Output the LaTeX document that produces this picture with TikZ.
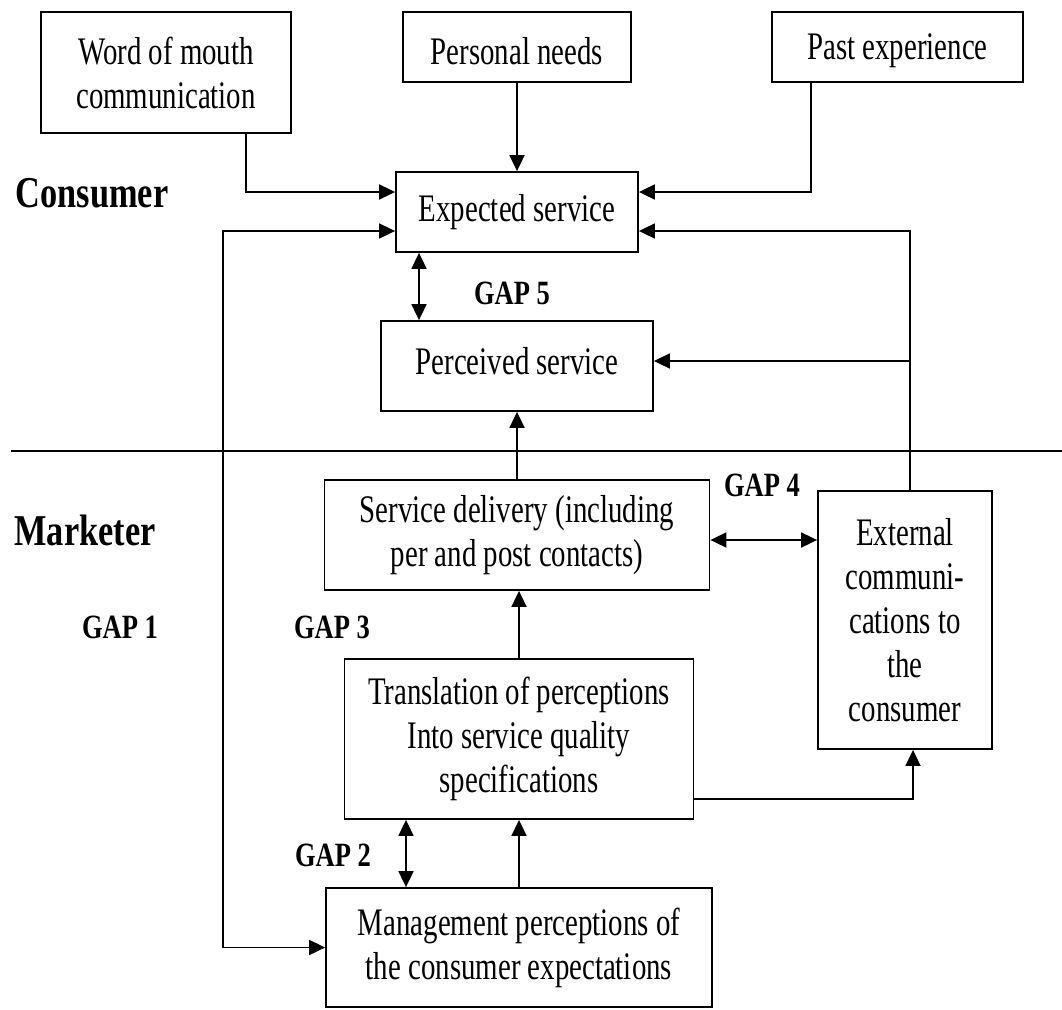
\documentclass[tikz,border=0pt]{standalone}
\usepackage{fontspec}
\setmainfont{Liberation Serif}[FakeStretch=0.74]
\newfontfamily\headfont{Liberation Serif}[FakeStretch=0.78]
\usetikzlibrary{arrows.meta}
% shift a line of text without changing its box size
\newcommand{\nudge}[2]{\raisebox{#1}[\height][\depth]{#2}}
\begin{document}
\begin{tikzpicture}[x=1pt,y=-1pt,
  line width=1.8pt,
  box/.style={draw, line width=1.8pt, align=center, inner sep=0pt,
    font=\fontsize{39}{44}\selectfont},
  tip/.style={-{Triangle[length=16pt,width=15pt]}},
  both/.style={{Triangle[length=16pt,width=15pt]}-{Triangle[length=16pt,width=15pt]}},
  side/.style={font=\headfont\bfseries\fontsize{44}{50}\selectfont, inner sep=0pt},
  gap/.style={font=\headfont\bfseries\fontsize{34}{40}\selectfont, inner sep=0pt}]
\useasboundingbox (0,0) rectangle (1062,1009);

% consumer side
\node[box, minimum width=250pt, minimum height=121pt] (wom) at (166,72.5) {Word of mouth\\communication};
\node[box, minimum width=228pt, minimum height=70pt] (pn) at (517,47) {\nudge{-4pt}{Personal needs}};
\node[box, minimum width=251pt, minimum height=70pt] (pe) at (897.5,47) {\nudge{-4pt}{Past experience}};
\node[box, minimum width=242pt, minimum height=80pt] (exp) at (517,212) {Expected service};
\node[box, minimum width=272pt, minimum height=90pt] (perc) at (517,366) {\nudge{5pt}{Perceived service}};

% marketer side
\node[box, minimum width=385pt, minimum height=110pt] (sd) at (517,535) {Service delivery (including\\per and post contacts)};
\node[box, minimum width=174pt, minimum height=258pt] (ext) at (905,620) {External\\communi-\\cations to\\the\\consumer};
\node[box, minimum width=349pt, minimum height=160pt] (trans) at (519,739) {Translation of perceptions\\Into service quality\\specifications};
\node[box, minimum width=386pt, minimum height=119pt] (mgmt) at (519,947.5) {Management perceptions of\\the consumer expectations};

% section labels
\node[side] (cons) at (92,193) {Consumer};
\node[side] (mark) at (85,530) {Marketer};
\node[gap] (g1) at (120,627) {GAP 1};
\node[gap] (g2) at (333,855) {GAP 2};
\node[gap] (g3) at (332,627) {GAP 3};
\node[gap] (g4) at (762,485) {GAP 4};
\node[gap] (g5) at (512,293) {GAP 5};

% dividing line
\draw (11,451) -- (1062,451);

% routing points
\coordinate (womx) at (246,192);
\coordinate (pex) at (811,192);
\coordinate (leftx) at (223,600);
\coordinate (rightx) at (910,231);
\coordinate (tap) at (910,361);
\coordinate (gapfive) at (419,290);
\coordinate (gapfour) at (760,540);
\coordinate (gaptwo) at (406,850);
\coordinate (extin) at (913,799);

% connectors
\draw[tip] (womx |- wom.south) |- (exp.west |- womx);
\draw[tip] (pn.south) -- (exp.north);
\draw[tip] (pex |- pe.south) |- (exp.east |- pex);
\draw[both] (exp.west |- rightx) -| (leftx) |- (mgmt.west);
\draw[tip] (rightx |- ext.north) -- (rightx) -- (exp.east |- rightx);
\draw[tip] (tap) -- (tap -| perc.east);
\draw[both] (gapfive |- exp.south) -- (gapfive |- perc.north);
\draw[tip] (sd.north) -- (sd.north |- perc.south);
\draw[both] (sd.east |- gapfour) -- (ext.west |- gapfour);
\draw[tip] (trans.north) -- (trans.north |- sd.south);
\draw[tip] (trans.east |- extin) -| (extin |- ext.south);
\draw[both] (gaptwo |- trans.south) -- (gaptwo |- mgmt.north);
\draw[tip] (mgmt.north) -- (mgmt.north |- trans.south);
\end{tikzpicture}
\end{document}
